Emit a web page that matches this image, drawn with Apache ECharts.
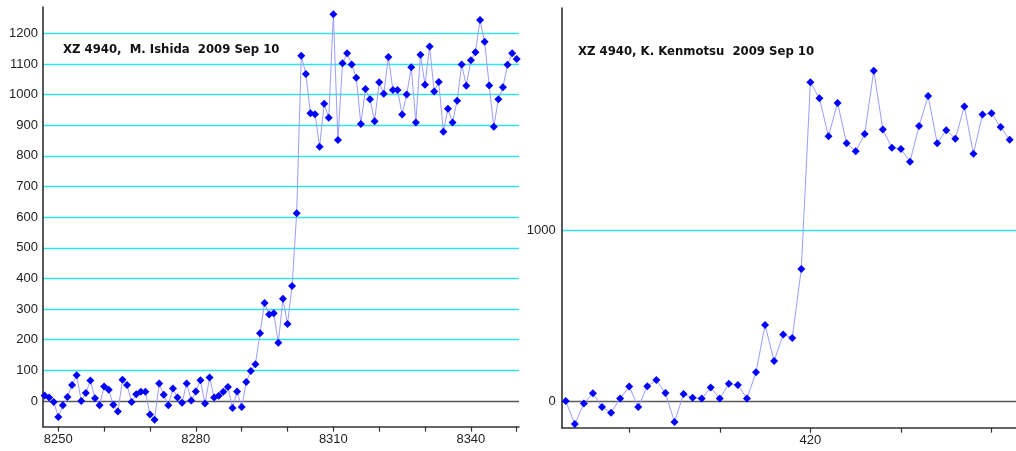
<!DOCTYPE html>
<html>
<head>
<meta charset="utf-8">
<script src="https://cdn.jsdelivr.net/npm/echarts@6/dist/echarts.min.js"></script>
<style>
html,body{margin:0;padding:0;background:#fff;}
#chart{width:1016px;height:451px;}
</style>
</head>
<body>
<div id="chart"></div>
<script>
// ---- Left panel (M. Ishida) ----
const leftTitle = 'XZ 4940,  M. Ishida  2009 Sep 10';
const leftX = [8247,8248,8249,8250,8251,8252,8253,8254,8255,8256,8257,8258,8259,8260,8261,8262,8263,8264,8265,8266,
  8267,8268,8269,8270,8271,8272,8273,8274,8275,8276,8277,8278,8279,8280,8281,8282,8283,8284,8285,8286,
  8287,8288,8289,8290,8291,8292,8293,8294,8295,8296,8297,8298,8299,8300,8301,8302,8303,8304,8305,8306,
  8307,8308,8309,8310,8311,8312,8313,8314,8315,8316,8317,8318,8319,8320,8321,8322,8323,8324,8325,8326,
  8327,8328,8329,8330,8331,8332,8333,8334,8335,8336,8337,8338,8339,8340,8341,8342,8343,8344,8345,8346,
  8347,8348,8349,8350];
const leftY = [18,11,-3,-52,-14,13,52,84,0,26,67,9,-14,47,37,-12,-34,69,52,-3,
  22,30,30,-44,-61,57,20,-14,41,11,-6,57,2,31,68,-8,77,11,17,30,
  46,-23,31,-20,62,98,120,221,320,282,286,190,334,251,375,613,1127,1067,939,936,
  830,970,924,1262,852,1102,1135,1098,1055,904,1018,985,913,1040,1003,1123,1015,1015,935,1000,
  1089,909,1130,1032,1157,1010,1041,879,954,909,980,1098,1029,1112,1138,1243,1172,1030,895,985,
  1024,1097,1135,1116];
const leftYLabels = [0,100,200,300,400,500,600,700,800,900,1000,1100,1200];
const leftXTicks = [8250,8260,8270,8280,8290,8300,8310,8320,8330,8340,8350];
const leftXLabels = [8250,8280,8310,8340];

// ---- Right panel (K. Kenmotsu) ----
const rightTitle = 'XZ 4940, K. Kenmotsu  2009 Sep 10';
const rightX = [393,394,395,396,397,398,399,400,401,402,403,404,405,406,407,408,409,410,411,412,
  413,414,415,416,417,418,419,420,421,422,423,424,425,426,427,428,429,430,431,432,
  433,434,435,436,437,438,439,440,441,442];
const rightY = [4,-130,-10,49,-31,-64,18,89,-31,90,126,50,-118,45,23,18,83,18,104,98,
  18,171,447,237,392,371,773,1860,1767,1546,1740,1505,1458,1559,1928,1586,1479,1472,1398,1606,
  1780,1505,1581,1532,1720,1444,1672,1680,1600,1526];
const rightYLabels = [0,1000];
const rightXTicks = [400,410,420,430,440];
const rightXLabels = [420];

function pairs(xs, ys){ return xs.map((x,i)=>[x, ys[i]]); }

const CYAN = '#2fe3f0';
const ZERO = '#5a5a5a';
const plain = v => String(v);
const labelFont = {fontFamily:'"Liberation Sans", Arial, sans-serif', fontSize:13, color:'#222', formatter:plain};

function gridColors(vals){ return vals.map(v => v === 0 ? ZERO : CYAN); }

const chart = echarts.init(document.getElementById('chart'), null, {renderer:'canvas'});
chart.setOption({
  animation:false,
  backgroundColor:'#fff',
  grid:[
    {left:43, top:7, width:476, height:419.7},
    {left:561.7, top:8, width:460, height:419.7}
  ],
  xAxis:[
    {type:'value', gridIndex:0, min:8246.66, max:8350.5,
     axisLine:{onZero:false, lineStyle:{color:'#333', width:1.5}},
     axisTick:{show:true, length:5, customValues:leftXTicks, lineStyle:{color:'#333', width:1.2}},
     axisLabel:Object.assign({customValues:leftXLabels, margin:6}, labelFont),
     splitLine:{show:false}},
    {type:'value', gridIndex:1, min:392.55, max:442.7,
     axisLine:{onZero:false, lineStyle:{color:'#333', width:1.5}},
     axisTick:{show:true, length:5, customValues:rightXTicks, lineStyle:{color:'#333', width:1.2}},
     axisLabel:Object.assign({customValues:rightXLabels, margin:6}, labelFont),
     splitLine:{show:false}}
  ],
  yAxis:[
    {type:'value', gridIndex:0, min:-83.9, max:1285.8,
     axisLine:{show:true, onZero:false, lineStyle:{color:'#222', width:1.5}},
     axisTick:{show:false, customValues:leftYLabels},
     axisLabel:Object.assign({customValues:leftYLabels, margin:5}, labelFont),
     splitLine:{show:true, lineStyle:{color:gridColors(leftYLabels), width:1.3}}},
    {type:'value', gridIndex:1, min:-151.4, max:2293,
     axisLine:{show:true, onZero:false, lineStyle:{color:'#222', width:1.5}},
     axisTick:{show:false, customValues:rightYLabels},
     axisLabel:Object.assign({customValues:rightYLabels, margin:6}, labelFont),
     splitLine:{show:true, lineStyle:{color:gridColors(rightYLabels), width:1.3}}}
  ],
  graphic:[
    {type:'text', x:63, y:50, style:{text:leftTitle, font:'bold 11.7px "DejaVu Sans", sans-serif', fill:'#111', verticalAlign:'middle'}},
    {type:'text', x:578, y:52, style:{text:rightTitle, font:'bold 11.7px "DejaVu Sans", sans-serif', fill:'#111', verticalAlign:'middle'}}
  ],
  series:[
    {type:'line', xAxisIndex:0, yAxisIndex:0, data:pairs(leftX,leftY),
     symbol:'diamond', symbolSize:8, showSymbol:true,
     itemStyle:{color:'#0000ff'}, lineStyle:{color:'#9d9dff', width:1}, z:3},
    {type:'line', xAxisIndex:1, yAxisIndex:1, data:pairs(rightX,rightY),
     symbol:'diamond', symbolSize:8, showSymbol:true,
     itemStyle:{color:'#0000ff'}, lineStyle:{color:'#9d9dff', width:1}, z:3}
  ]
});
</script>
</body>
</html>
